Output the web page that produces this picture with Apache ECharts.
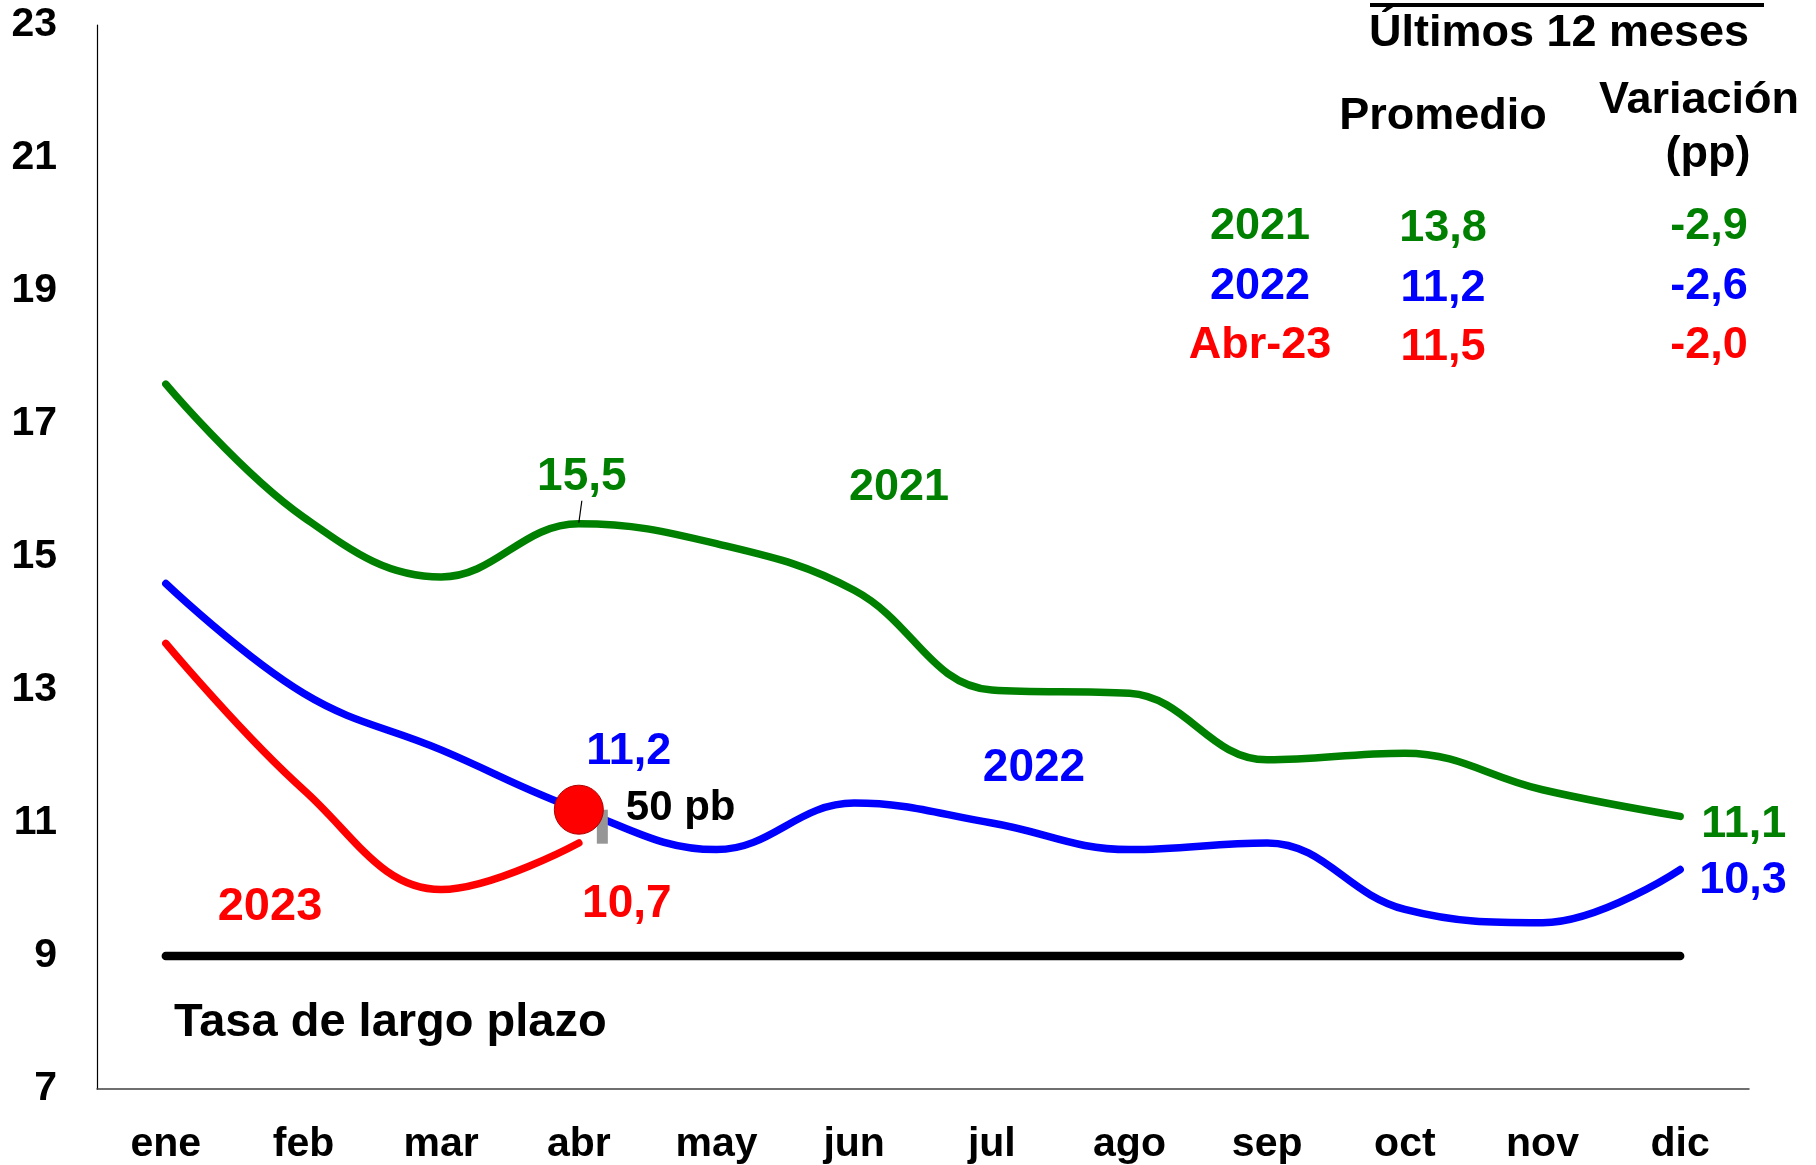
<!DOCTYPE html>
<html><head><meta charset="utf-8">
<script src="https://cdn.jsdelivr.net/npm/echarts@6/dist/echarts.min.js"></script>
<style>html,body{margin:0;padding:0;background:#fff}#c{width:1816px;height:1165px}</style>
</head><body><div id="c"></div>
<script>
const months = ['ene','feb','mar','abr','may','jun','jul','ago','sep','oct','nov','dic'];
const yTicks = [7, 23, 2]; // min, max, interval
const s2021 = [17.6, 15.6, 14.7, 15.5, 15.2, 14.5, 13.0, 12.95, 11.95, 12.05, 11.5, 11.1];
const s2022 = [14.6, 12.95, 12.1, 11.2, 10.6, 11.3, 11.0, 10.6, 10.7, 9.7, 9.5, 10.3];
const s2023 = [13.7, 11.5, 10.0, 10.7];
const longRate = [9, 9, 9, 9, 9, 9, 9, 9, 9, 9, 9, 9];
const cutDot = [null, null, null, 11.2];
const tableRows = ['2021', '2022', 'Abr-23'];
const tableAvg = ['13,8', '11,2', '11,5'];
const tableVar = ['-2,9', '-2,6', '-2,0'];

const GREEN = '#008000', BLUE = '#0000FF', RED = '#FF0000';
const FF = "'Liberation Sans',Arial,Helvetica,sans-serif";
const font = s => 'bold ' + s + 'px ' + FF;

const chart = echarts.init(document.getElementById('c'), null, {renderer: 'canvas'});
chart.setOption({
  animation: false,
  backgroundColor: '#fff',
  grid: {left: 97, right: 67, top: 25, bottom: 76, containLabel: false},
  xAxis: {
    type: 'category', data: months, boundaryGap: true,
    axisLine: {show: true, lineStyle: {color: '#404040', width: 1.5}},
    axisTick: {show: false},
    axisLabel: {color: '#000', fontFamily: FF, fontWeight: 'bold', fontSize: 41, margin: 35}
  },
  yAxis: {
    type: 'value', min: yTicks[0], max: yTicks[1], interval: yTicks[2],
    axisLine: {show: true, lineStyle: {color: '#000', width: 1.2}},
    axisTick: {show: false},
    splitLine: {show: false},
    axisLabel: {color: '#000', fontFamily: FF, fontWeight: 'bold', fontSize: 41, margin: 40, padding: [9, 0, 0, 0]}
  },
  series: [
    {name: 'Tasa de largo plazo', type: 'line', data: longRate, symbol: 'none',
     lineStyle: {color: '#000', width: 8.5, cap: 'round'}},
    {name: '2021', type: 'line', data: s2021, smooth: 0.4, symbol: 'none',
     lineStyle: {color: GREEN, width: 7.5, cap: 'round'}},
    {name: '2022', type: 'line', data: s2022, smooth: 0.4, symbol: 'none',
     lineStyle: {color: BLUE, width: 7.5, cap: 'round'}},
    {name: '2023', type: 'line', data: s2023, smooth: 0.4, symbol: 'none',
     lineStyle: {color: RED, width: 7.5, cap: 'round'}},
    {name: 'dot', type: 'scatter', data: cutDot, symbol: 'circle', symbolSize: 49,
     itemStyle: {color: RED, opacity: 1, borderColor: '#b00000', borderWidth: 1}, z: 5}
  ]
});

const px = (i, v) => chart.convertToPixel({xAxisIndex: 0, yAxisIndex: 0}, [i, v]);
const txt = (text, x, y, color, size, align) => ({
  type: 'text', x: x, y: y, z: 10,
  style: {text: text, fill: color, font: font(size), align: align || 'center', verticalAlign: 'middle'}
});

const pG = px(3, s2021[3]);
const pB = px(3, s2022[3]);
const pR = px(3, s2023[3]);
const pD = px(3, cutDot[3]);
const pGe = px(11, s2021[11]);
const pBe = px(11, s2022[11]);

const fmt = v => v.toFixed(1).replace('.', ',');

const g = [
  // data callouts
  txt(fmt(s2021[3]), pG[0] + 3, pG[1] - 46, GREEN, 46),
  {type: 'line', z: 9, shape: {x1: pG[0], y1: pG[1] - 1, x2: pG[0] + 3, y2: pG[1] - 23}, style: {stroke: '#000', lineWidth: 1.2}},
  txt(fmt(s2022[3]), pB[0] + 50, pB[1] - 58, BLUE, 45),
  txt(fmt(s2023[3]), pR[0] + 48, pR[1] + 61, RED, 46),
  txt(fmt(s2021[11]), pGe[0] + 21, pGe[1] + 8, GREEN, 45, 'left'),
  txt(fmt(s2022[11]), pBe[0] + 19, pBe[1] + 11, BLUE, 45, 'left'),
  txt('50 pb', pD[0] + 47, pD[1] - 1, '#000', 42, 'left'),
  {type: 'rect', z: 4, shape: {x: pD[0] + 18, y: pD[1], width: 11, height: 34}, style: {fill: '#969696'}},
  // series names
  txt('2021', 899, 488, GREEN, 45),
  txt('2022', 1034, 768, BLUE, 46),
  txt('2023', 270, 907, RED, 47),
  txt('Tasa de largo plazo', 174, 1023, '#000', 47, 'left'),
  // table
  {type: 'line', z: 9, shape: {x1: 1370, y1: 5, x2: 1764, y2: 5}, style: {stroke: '#000', lineWidth: 4}},
  txt('Últimos 12 meses', 1559, 34, '#000', 45),
  txt('Promedio', 1443, 117, '#000', 45),
  txt('Variación', 1699, 101, '#000', 45),
  txt('(pp)', 1708, 155, '#000', 45)
];
const rowColors = [GREEN, BLUE, RED];
const rowY = [227, 287, 346];
tableRows.forEach((r, i) => {
  g.push(txt(r, 1260, rowY[i], rowColors[i], 45));
  g.push(txt(tableAvg[i], 1443, rowY[i] + 2, rowColors[i], 45));
  g.push(txt(tableVar[i], 1709, rowY[i], rowColors[i], 45));
});
chart.setOption({graphic: g});
</script></body></html>
